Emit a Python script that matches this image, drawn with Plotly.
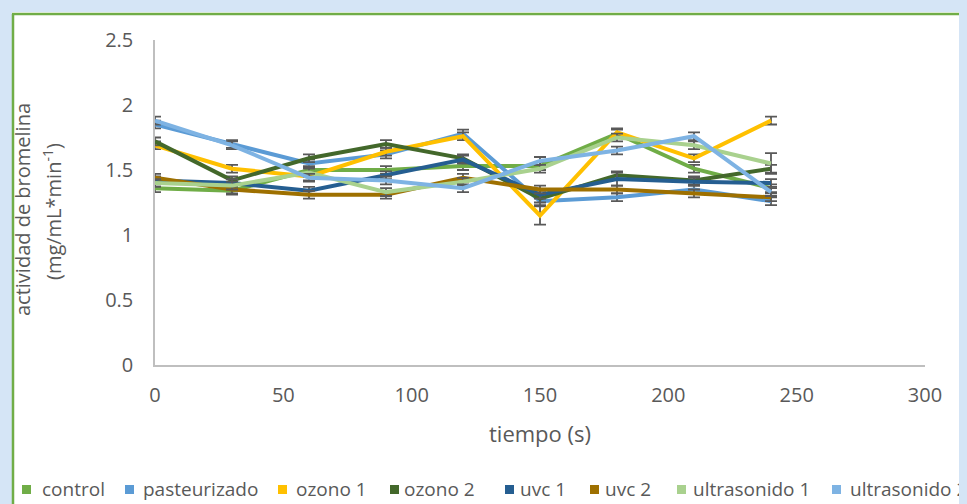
import plotly.graph_objects as go

tiempo = [0, 30, 60, 90, 120, 150, 180, 210, 240]

series_names = ["control", "pasteurizado", "ozono 1", "ozono 2", "uvc 1", "uvc 2",
                "ultrasonido 1", "ultrasonido 2"]

control = [1.36, 1.34, 1.50, 1.50, 1.53, 1.53, 1.78, 1.51, 1.36]
pasteurizado = [1.85, 1.70, 1.55, 1.62, 1.78, 1.26, 1.29, 1.35, 1.26]
ozono_1 = [1.69, 1.51, 1.45, 1.64, 1.76, 1.15, 1.79, 1.59, 1.88]
ozono_2 = [1.72, 1.42, 1.59, 1.70, 1.59, 1.28, 1.46, 1.42, 1.51]
uvc_1 = [1.42, 1.40, 1.34, 1.46, 1.58, 1.31, 1.43, 1.41, 1.40]
uvc_2 = [1.44, 1.35, 1.31, 1.31, 1.44, 1.35, 1.35, 1.32, 1.29]
ultrasonido_1 = [1.40, 1.38, 1.48, 1.33, 1.41, 1.51, 1.75, 1.69, 1.55]
ultrasonido_2 = [1.88, 1.69, 1.44, 1.42, 1.36, 1.57, 1.65, 1.76, 1.33]

err_control = [0.03, 0.03, 0.03, 0.03, 0.03, 0.03, 0.03, 0.03, 0.03]
err_pasteurizado = [0.03, 0.03, 0.03, 0.03, 0.03, 0.03, 0.03, 0.03, 0.03]
err_ozono_1 = [0.03, 0.03, 0.03, 0.03, 0.03, 0.07, 0.03, 0.03, 0.03]
err_ozono_2 = [0.03, 0.03, 0.03, 0.03, 0.03, 0.03, 0.03, 0.03, 0.03]
err_uvc_1 = [0.03, 0.03, 0.03, 0.03, 0.03, 0.03, 0.05, 0.03, 0.03]
err_uvc_2 = [0.03, 0.03, 0.03, 0.03, 0.03, 0.03, 0.03, 0.03, 0.03]
err_ultrasonido_1 = [0.03, 0.03, 0.03, 0.03, 0.03, 0.03, 0.03, 0.03, 0.08]
err_ultrasonido_2 = [0.03, 0.03, 0.03, 0.03, 0.03, 0.03, 0.03, 0.03, 0.03]

y_title_1 = "actividad de bromelina"
y_title_2 = "(mg/mL*min<sup>-1</sup>)"
x_title = "tiempo (s)"

values = [control, pasteurizado, ozono_1, ozono_2, uvc_1, uvc_2, ultrasonido_1, ultrasonido_2]
errors = [err_control, err_pasteurizado, err_ozono_1, err_ozono_2, err_uvc_1, err_uvc_2,
          err_ultrasonido_1, err_ultrasonido_2]
colors = ["#70AD47", "#5B9BD5", "#FFC000", "#43682B", "#255E91", "#9E7000",
          "#A9D18E", "#7EB3E3"]
GREY = "#595959"

fig = go.Figure()
for name, vals, err, col in zip(series_names, values, errors, colors):
    fig.add_trace(go.Scatter(
        x=tiempo, y=vals, mode="lines", name=name, showlegend=False,
        line=dict(color=col, width=4),
        error_y=dict(type="data", array=err, visible=True, color=GREY,
                     thickness=1.8, width=6),
    ))

# figure sits at an 8px page offset inside the window
W, H = 959, 496
L, R, T, B = 147, 42, 32, 139
pw, ph = W - L - R, H - T - B


def px(x):
    return (x - 8 - L) / pw


def py(y):
    return (H - B - (y - 8)) / ph


shapes = [
    dict(type="rect", xref="paper", yref="paper", x0=px(0), x1=px(1000), y0=py(8), y1=py(12),
         line=dict(width=0), fillcolor="#D5E5F6", layer="below"),
    dict(type="rect", xref="paper", yref="paper", x0=px(8), x1=px(12), y0=py(8), y1=py(510),
         line=dict(width=0), fillcolor="#D5E5F6", layer="below"),
    dict(type="line", xref="paper", yref="paper", x0=px(12), x1=px(1000), y0=py(14), y1=py(14),
         line=dict(color="#70AD47", width=2.5)),
    dict(type="line", xref="paper", yref="paper", x0=px(13), x1=px(13), y0=py(14), y1=py(510),
         line=dict(color="#70AD47", width=2.5)),
]

annotations = [
    dict(text=y_title_1, xref="paper", yref="paper", x=px(23), y=py(210), textangle=-90,
         showarrow=False, xanchor="center", yanchor="middle", font=dict(size=20, color=GREY)),
    dict(text=y_title_2, xref="paper", yref="paper", x=px(53), y=py(212), textangle=-90,
         showarrow=False, xanchor="center", yanchor="middle", font=dict(size=20, color=GREY)),
]

# legend (squares + labels), positioned as in the reference
legend_sq_x = [22, 125, 278, 390, 505, 590, 677, 832]
legend_tx_x = [40, 141, 294, 402, 518, 603, 691, 848]
leg_y = 489
for name, col, sx, tx in zip(series_names, colors, legend_sq_x, legend_tx_x):
    shapes.append(dict(type="rect", xref="paper", yref="paper",
                       x0=px(sx), x1=px(sx + 9), y0=py(leg_y - 4), y1=py(leg_y + 5),
                       line=dict(width=0), fillcolor=col))
    annotations.append(dict(text=name, xref="paper", yref="paper", x=px(tx), y=py(leg_y),
                            showarrow=False, xanchor="left", yanchor="middle",
                            font=dict(size=19, color=GREY)))

fig.update_layout(
    width=W, height=H,
    margin=dict(l=L, r=R, t=T, b=B),
    paper_bgcolor="white", plot_bgcolor="white",
    font=dict(family="Open Sans", color=GREY),
    shapes=shapes, annotations=annotations, showlegend=False,
    xaxis=dict(range=[0, 300], dtick=50, showgrid=False, zeroline=False,
               showline=True, linecolor="#BFBFBF", linewidth=1.5, ticks="",
               ticklabelstandoff=11,
               tickfont=dict(size=20, color=GREY),
               title=dict(text=x_title, font=dict(size=22, color=GREY), standoff=20)),
    yaxis=dict(range=[0, 2.5], dtick=0.5, showgrid=False, zeroline=False,
               showline=True, linecolor="#BFBFBF", linewidth=1.5, ticks="",
               ticklabelstandoff=16,
               tickfont=dict(size=20, color=GREY)),
)

fig.write_html("out.html", post_script="document.body.style.background='#D5E5F6';")
